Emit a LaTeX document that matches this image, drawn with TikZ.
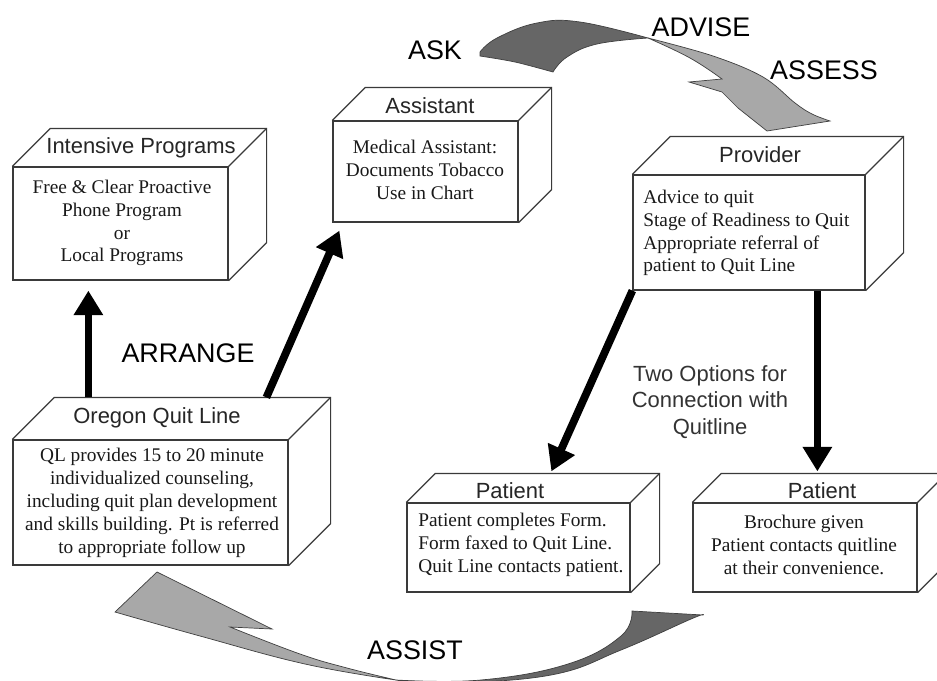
\documentclass[tikz,border=0pt]{standalone}
\usepackage{fontspec}
\setmainfont{Liberation Serif}
\newfontfamily\hsans{Liberation Sans}
\usetikzlibrary{arrows.meta,calc,fit}
\definecolor{swdark}{HTML}{666666}
\definecolor{swlight}{HTML}{A8A8A8}
\definecolor{edgecol}{HTML}{3A3A3A}
\newcommand\cuboid[6]{%
  \coordinate (#1-a) at (#2,#3);
  \coordinate (#1-b) at (#4,#5);
  \node[face, fit=(#1-a)(#1-b)] (#1) {};
  \draw[edge] (#1.north west) -- ++(#6,-#6) -- ($(#1.north east)+(#6,-#6)$) -- ($(#1.south east)+(#6,-#6)$) -- (#1.south east);
  \draw[edge] (#1.north east) -- ++(#6,-#6);
}
\begin{document}
\begin{tikzpicture}[x=0.02cm,y=-0.02cm,
  face/.style={draw=edgecol, line width=0.7pt, inner sep=0pt},
  edge/.style={draw=edgecol, line width=0.7pt, line join=miter},
  bigarrow/.style={draw=black, line width=4.4pt, -{Triangle[length=14pt,width=16pt]}},
  swd/.style={fill=swdark, draw=black!75, line width=0.4pt},
  swl/.style={fill=swlight, draw=black!75, line width=0.4pt},
  title/.style={font=\hsans\fontsize{12.5}{15}\selectfont, text=black!85, inner sep=0pt},
  body/.style={font=\fontsize{11}{13}\selectfont, inner sep=0pt, text=black!90},
  biglabel/.style={font=\hsans\fontsize{15.3}{18}\selectfont, inner sep=0pt},
  optlabel/.style={font=\hsans\fontsize{12.5}{15}\selectfont, text=black!80, align=center, inner sep=0pt}]
\useasboundingbox[fill=white] (0,0) rectangle (937,680);

% top swoosh (ASK -> ASSESS)
\filldraw[swd] plot[smooth, tension=0.7] coordinates {(480,52) (497,38) (537,23) (580,22) (648,38)}
  -- plot[smooth, tension=0.7] coordinates {(648,38) (597,44) (567,57) (553,72)}
  -- plot[smooth] coordinates {(553,72) (515,62) (480,56)} -- cycle;
\filldraw[swl] plot[smooth, tension=0.6] coordinates {(648,38) (713,56) (763,77) (795,103) (812,114) (830,121)}
  -- (767,131) -- (738,108) -- (722,92) -- (689,82) -- (722,79)
  -- plot[smooth, tension=0.7] coordinates {(722,79) (690,58) (648,38)} -- cycle;

% bottom swoosh (ASSIST)
\filldraw[swl] (157,572) -- (272,629) -- (230,627)
  -- plot[smooth, tension=0.7] coordinates {(230,627) (300,654) (347,668) (396,680)}
  -- plot[smooth, tension=0.7] coordinates {(396,680) (305,664) (200,636) (115,612)} -- cycle;
\filldraw[swd] plot[smooth, tension=0.7] coordinates {(396,680) (446,683) (551,675) (621,650) (691,619) (703,615)}
  -- (632,611)
  -- plot[smooth, tension=0.7] coordinates {(632,611) (621,636) (568,664) (481,680) (396,680)} -- cycle;

% boxes
\cuboid{ip}{13}{167}{228}{280}{38}
\cuboid{as}{333}{121}{518}{222}{33}
\cuboid{pr}{633}{175}{865}{290}{38}
\cuboid{oq}{13}{440}{288}{565}{42}
\cuboid{pa}{407}{503}{630}{592}{29}
\cuboid{pb}{693}{503}{917}{592}{29}

% titles
\node[title] (ipt) at (141,148) {Intensive Programs};
\node[title] (ast) at (430,106) {Assistant};
\node[title] (prt) at (760,155) {Provider};
\node[title] (oqt) at (157,418) {Oregon Quit Line};
\node[title] (pat) at (510,491) {Patient};
\node[title] (pbt) at (822,491) {Patient};

% bodies
\node[body, align=center] (ipb) at (122,223) {Free \& Clear Proactive\\Phone Program\\or\\Local Programs};
\node[body, align=center] (asb) at (425,170) {Medical Assistant:\\Documents Tobacco\\Use in Chart};
\node[body, align=left, anchor=west] (prb) at (643,233) {Advice to quit\\Stage of Readiness to Quit\\Appropriate referral of\\patient to Quit Line};
\node[body, align=center] (oqb) at (152,503) {QL provides 15 to 20 minute\\individualized counseling,\\including quit plan development\\and skills building. Pt is referred\\to appropriate follow up};
\node[body, align=left, anchor=west] (pab) at (418,545) {Patient completes Form.\\Form faxed to Quit Line.\\Quit Line contacts patient.};
\node[body, align=center] (pbb) at (804,545) {Brochure given\\Patient contacts quitline\\at their convenience.};

% arrows
\draw[bigarrow] ($(oq.north west)+(76,-42)$) -- ($(ip.south west)+(76,10)$);
\draw[bigarrow] ($(oq.north west)+(254,-42)$) -- ($(as.south west)+(7,8)$);
\draw[bigarrow] (pr.south west) -- ($(pa.north west)+(145,-31)$);
\draw[bigarrow] ($(pr.south west)+(185,0)$) -- ($(pb.north west)+(125,-31)$);

% labels
\node[biglabel] (ask) at (435,50) {ASK};
\node[biglabel] (advise) at (701,27) {ADVISE};
\node[biglabel] (assess) at (824,70) {ASSESS};
\node[biglabel] (arrange) at (188,353) {ARRANGE};
\node[biglabel] (assist) at (415,650) {ASSIST};
\node[optlabel] (opts) at (710,402) {Two Options for\\Connection with\\Quitline};
\end{tikzpicture}
\end{document}
